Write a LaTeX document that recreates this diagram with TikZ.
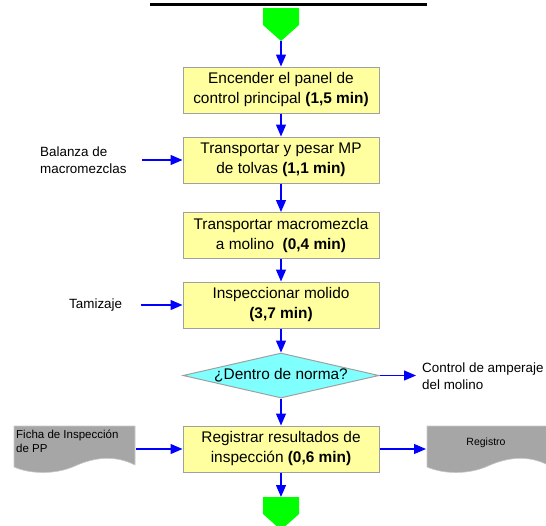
\documentclass[tikz,border=0pt]{standalone}
\usepackage{fontspec}
\setmainfont{Liberation Sans}
\usetikzlibrary{arrows.meta}
\usetikzlibrary{shapes.geometric}

\definecolor{boxyellow}{RGB}{255,255,160}
\definecolor{boxedge}{RGB}{160,160,160}
\definecolor{decicyan}{RGB}{128,255,255}
\definecolor{flowblue}{RGB}{0,0,255}
\definecolor{termgreen}{RGB}{0,255,0}
\definecolor{docgray}{RGB}{166,166,166}
\definecolor{docedge}{RGB}{200,200,200}

\begin{document}
\begin{tikzpicture}[x=1pt,y=-1pt,
  every node/.style={align=center},
  proc/.style={draw=boxedge, fill=boxyellow, line width=1pt,
    minimum width=196pt, minimum height=46pt, inner sep=0pt,
    font=\fontsize{15.4}{20}\selectfont},
  decide/.style={diamond, draw=boxedge, fill=decicyan, line width=1pt,
    minimum width=196pt, minimum height=45pt, aspect=4.4, inner sep=0pt,
    font=\fontsize{15.4}{20}\selectfont},
  flow/.style={draw=flowblue, line width=1.2pt,
    -{Triangle[length=12pt,width=10pt]}},
  side/.style={align=left, inner sep=0pt, font=\fontsize{13.4}{16.5}\selectfont},
  docfont/.style={align=left, font=\fontsize{11.5}{14}\selectfont, inner sep=0pt},
  docbox/.style={fill=docgray, draw=docedge, line width=0.6pt}]
\useasboundingbox (0,0) rectangle (546,525);

% title rule (title itself is cut off)
\draw[line width=3pt] (150,4) -- (427,4);

% start / end terminals
\fill[termgreen] (263,8) -- (299,8) -- (299,25) -- (281,41) -- (263,25) -- cycle;
\fill[termgreen] (263,497) -- (299,497) -- (299,514) -- (281,530) -- (263,514) -- cycle;
\coordinate (inicio) at (281,41);
\coordinate (fin) at (281,497);

% documents
\draw[docbox] (14,426) -- (135,426) -- (135,465)
  .. controls (115,455) and (95,457) .. (75,466)
  .. controls (55,475) and (30,474) .. (14,467) -- cycle;
\node[docfont, anchor=north west] (ficha) at (16,430) {Ficha de Inspección\\de PP};

\draw[docbox] (427,426) -- (548,426) -- (548,465)
  .. controls (528,455) and (508,457) .. (488,466)
  .. controls (468,475) and (443,474) .. (427,467) -- cycle;
\node[docfont, font=\fontsize{10.5}{14}\selectfont] (registro) at (486,443) {Registro};

% process steps
\node[proc] (encender) at (281,90) {Encender el panel de\\control principal \textbf{(1,5 min)}};
\node[proc] (pesar) at (281,160) {Transportar y pesar MP\\de tolvas \textbf{(1,1 min)}};
\node[proc] (molino) at (281,235.5) {Transportar macromezcla\\a molino~ \textbf{(0,4 min)}};
\node[proc] (inspeccion) at (281,305) {Inspeccionar molido\\\textbf{(3,7 min)}};
\node[decide] (norma) at (281,375.5) {¿Dentro de norma?};
\node[proc] (registrar) at (281,449) {Registrar resultados de\\inspección \textbf{(0,6 min)}};

% main flow
\draw[flow] (inicio) -- (encender);
\draw[flow] (encender) -- (pesar);
\draw[flow] (pesar) -- (molino);
\draw[flow] (molino) -- (inspeccion);
\draw[flow] (inspeccion) -- (norma);
\draw[flow] (norma) -- (registrar);
\draw[flow] (registrar) -- (fin);

% side inputs and outputs
\node[side, anchor=west] (balanza) at (40,160) {Balanza de\\macromezclas};
\coordinate (balanzain) at (142,160);
\draw[flow] (balanzain) -- (pesar.west);

\node[side, anchor=west] (tamiz) at (69,305) {Tamizaje};
\coordinate (tamizin) at (141,305);
\draw[flow] (tamizin) -- (inspeccion.west);

\node[side, anchor=west] (amperaje) at (422,376) {Control de amperaje\\del molino};
\coordinate (amperajein) at (416,375.5);
\draw[flow] (norma.east) -- (amperajein);

\coordinate (fichaout) at (136,449);
\coordinate (registroin) at (426,449);
\draw[flow] (fichaout) -- (registrar.west);
\draw[flow] (registrar.east) -- (registroin);
\end{tikzpicture}
\end{document}
